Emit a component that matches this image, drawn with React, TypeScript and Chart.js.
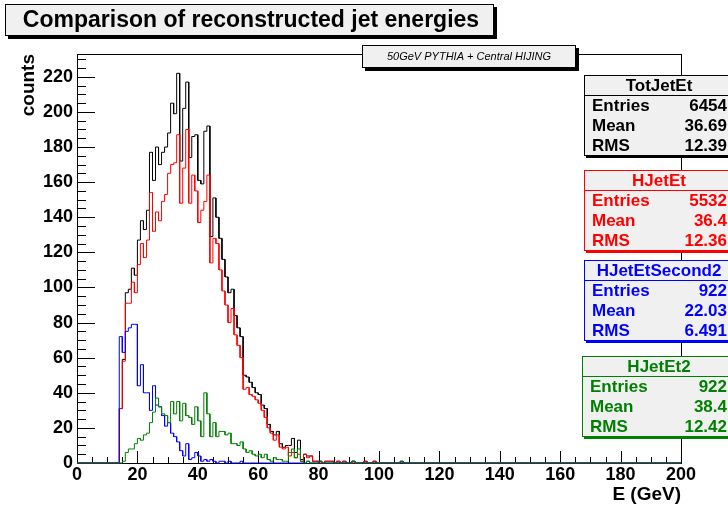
import React, { useEffect, useRef } from 'react';
import { Chart, registerables } from 'chart.js';

Chart.register(...registerables);

const FONT = "'Liberation Sans', Arial, Helvetica, sans-serif";

// Histogram binning: 200 bins of 1 GeV from 0 to 200; arrays start at bin FIRST_BIN
const FIRST_BIN = 14;
const N_BINS = 200;
const X_MAX = 200;
const Y_MAX = 233;
const X_LABEL_STEP = 20;
const Y_LABEL_STEP = 20;
const MINOR_STEP = 5;

// bins 14 .. 110
const totJetEt = [
  31, 59, 97, 99, 111, 107, 127, 138, 133, 144,
  177, 161, 180, 170, 177, 180, 188, 205, 199, 222,
  172, 202, 217, 174, 186, 187, 161, 159, 189, 192,
  129, 151, 140, 128, 116, 106, 97, 99, 84, 77,
  72, 50, 49, 46, 43, 40, 39, 33, 31, 22,
  18, 16, 18, 11, 9, 10, 10, 14, 6, 13,
  2, 5, 4, 4, 1, 1, 1, 0, 1, 1,
  1, 0, 1, 0, 1, 0, 0, 1, 0, 0,
  0, 1, 0, 0, 1, 0, 0, 0, 0, 0,
  0, 0, 0, 1, 0, 0, 0,
];

const hJetEt = [
  31, 58, 91, 91, 103, 97, 113, 125, 117, 127,
  154, 132, 143, 138, 149, 153, 165, 170, 171, 187,
  148, 168, 190, 148, 164, 155, 137, 144, 149, 164,
  114, 128, 125, 110, 98, 90, 80, 88, 73, 67,
  60, 42, 43, 39, 38, 36, 34, 30, 26, 20,
  17, 13, 16, 9, 8, 9, 4, 6, 3, 5,
  1, 5, 3, 4, 1, 1, 0, 0, 1, 1,
  1, 0, 1, 0, 1, 0, 0, 0, 0, 0,
  0, 1, 0, 0, 1, 0, 0, 0, 0, 0,
  0, 0, 0, 0, 0, 0, 0,
];

const hJetEtSecond2 = [
  72, 63, 75, 77, 79, 79, 44, 56, 40, 40,
  30, 44, 33, 32, 27, 21, 23, 17, 15, 12,
  7, 4, 11, 2, 3, 6, 4, 1, 2, 1,
  2, 1, 0, 1, 1, 0, 1, 0, 0, 0,
  1, 0, 0, 0, 0, 0, 0, 0, 0, 0,
  0, 0, 0, 0, 0, 0, 0, 0, 0, 0,
  0, 0, 1, 0, 0, 0, 1, 0, 0, 0,
  0, 0, 0, 0, 0, 0, 0, 1, 0, 0,
  0, 0, 0, 0, 0, 0, 0, 0, 0, 0,
  0, 0, 0, 0, 0, 0, 0,
];

const hJetEt2 = [
  0, 1, 6, 8, 8, 11, 14, 13, 16, 17,
  23, 29, 37, 32, 28, 27, 23, 35, 28, 35,
  24, 34, 27, 26, 22, 32, 24, 15, 40, 28,
  15, 23, 15, 18, 18, 16, 17, 11, 11, 10,
  12, 8, 6, 7, 5, 4, 5, 3, 5, 2,
  1, 3, 2, 2, 1, 1, 6, 8, 3, 8,
  1, 0, 1, 0, 0, 0, 1, 0, 0, 0,
  0, 0, 0, 0, 0, 0, 0, 1, 0, 0,
  0, 0, 0, 0, 0, 0, 0, 0, 0, 0,
  0, 0, 0, 1, 0, 0, 0,
];

const seriesColors = ['#000000', '#ff0000', '#0000ff', '#008000'];

// Stats boxes
const statNames = ['TotJetEt', 'HJetEt', 'HJetEtSecond2', 'HJetEt2'];
const statEntries = ['6454', '5532', '922', '922'];
const statMeans = ['36.69', '36.4', '22.03', '38.4'];
const statRms = ['12.39', '12.36', '6.491', '12.42'];
const statTops = [75, 170, 260, 356];
const statLefts = [584, 584, 584, 582];

const chartTitle = 'Comparison of reconstructed jet energies';
const subTitle = '50GeV PYTHIA + Central HIJING';
const xTitle = 'E (GeV)';
const yTitle = 'counts';

function histPoints(values: number[]) {
  const pts: { x: number; y: number }[] = [];
  for (let b = 0; b < N_BINS; b++) {
    const i = b - FIRST_BIN;
    const v = i >= 0 && i < values.length ? values[i] : 0;
    pts.push({ x: b, y: v }, { x: b + 1, y: v });
  }
  return pts;
}

function pave(ctx: CanvasRenderingContext2D, x: number, y: number, w: number, h: number,
  fill: string, stroke: string, shadow: string, off: number) {
  ctx.fillStyle = shadow;
  ctx.fillRect(x + off, y + off, w, h);
  ctx.fillStyle = fill;
  ctx.fillRect(x, y, w, h);
  ctx.strokeStyle = stroke;
  ctx.lineWidth = 1;
  ctx.strokeRect(x + 0.5, y + 0.5, w - 1, h - 1);
}

const rootPlugin = {
  id: 'rootDecor',
  beforeDatasetsDraw(chart: any) {
    const { ctx, chartArea } = chart;
    const { left, right, top, bottom } = chartArea;
    const xs = chart.scales.x;
    const ys = chart.scales.y;
    ctx.save();
    ctx.strokeStyle = '#000';
    ctx.lineWidth = 1;
    ctx.beginPath();
    for (let v = 0; v <= X_MAX; v += MINOR_STEP) {
      const px = Math.round(xs.getPixelForValue(v)) + 0.5;
      const len = v % X_LABEL_STEP === 0 ? 12 : 6;
      ctx.moveTo(px, bottom);
      ctx.lineTo(px, bottom - len);
    }
    for (let v = 0; v <= Y_MAX; v += MINOR_STEP) {
      const py = Math.round(ys.getPixelForValue(v)) + 0.5;
      const len = v % Y_LABEL_STEP === 0 ? 18 : 9;
      ctx.moveTo(left, py);
      ctx.lineTo(left + len, py);
    }
    ctx.stroke();
    ctx.strokeRect(Math.round(left) + 0.5, Math.round(top) + 0.5, Math.round(right - left), Math.round(bottom - top));
    ctx.restore();
  },
  afterDraw(chart: any) {
    const ctx: CanvasRenderingContext2D = chart.ctx;
    ctx.save();
    // main title
    pave(ctx, 5, 4, 489, 32, '#f0f0f0', '#000', '#000', 3);
    ctx.fillStyle = '#000';
    ctx.font = `bold 23px ${FONT}`;
    ctx.textAlign = 'center';
    ctx.textBaseline = 'middle';
    ctx.fillText(chartTitle, 251, 21);
    // subtitle label
    pave(ctx, 362, 45, 214, 23, '#f0f0f0', '#000', '#000', 3);
    ctx.fillStyle = '#000';
    ctx.font = `italic 11px ${FONT}`;
    ctx.fillText(subTitle, 469, 57);
    // stats boxes
    for (let k = 0; k < statNames.length; k++) {
      const col = seriesColors[k];
      const x = statLefts[k];
      const y = statTops[k];
      pave(ctx, x, y, 160, 81, '#f0f0f0', col, col, 2);
      ctx.strokeStyle = col;
      ctx.beginPath();
      ctx.moveTo(x, y + 20.5);
      ctx.lineTo(728, y + 20.5);
      ctx.stroke();
      ctx.fillStyle = col;
      ctx.font = `bold 17px ${FONT}`;
      ctx.textBaseline = 'middle';
      ctx.textAlign = 'center';
      ctx.fillText(statNames[k], 659, y + 11);
      const labels = ['Entries', 'Mean', 'RMS'];
      const vals = [statEntries[k], statMeans[k], statRms[k]];
      for (let r = 0; r < 3; r++) {
        const ry = y + 31 + r * 20;
        ctx.textAlign = 'left';
        ctx.fillText(labels[r], x + 8, ry);
        ctx.textAlign = 'right';
        ctx.fillText(vals[r], 727, ry);
      }
    }
    ctx.restore();
  },
};

export default function App() {
  const canvasRef = useRef<HTMLCanvasElement | null>(null);

  useEffect(() => {
    const canvas = canvasRef.current;
    if (!canvas) return;
    const series = [totJetEt, hJetEt, hJetEtSecond2, hJetEt2];
    const names = statNames;
    const orders = [4, 3, 2, 1];
    const tickFont = { family: FONT, size: 18, weight: 'bold' as const, lineHeight: 1.2 };
    const titleFont = { family: FONT, size: 19, weight: 'bold' as const, lineHeight: 1.2 };
    const chart = new Chart(canvas, {
      type: 'line',
      data: {
        datasets: series.map((vals, k) => ({
          label: names[k],
          data: histPoints(vals),
          borderColor: seriesColors[k],
          backgroundColor: seriesColors[k],
          borderWidth: 1,
          pointRadius: 0,
          fill: false,
          tension: 0,
          order: orders[k],
          clip: 2,
        })),
      },
      options: {
        responsive: false,
        animation: false,
        devicePixelRatio: 1,
        events: [],
        layout: { padding: { left: 0, right: 47, top: 54, bottom: 0 } },
        plugins: {
          legend: { display: false },
          tooltip: { enabled: false },
          title: { display: false },
        },
        scales: {
          x: {
            type: 'linear',
            min: 0,
            max: X_MAX,
            grid: { display: false, drawTicks: false },
            border: { display: false },
            ticks: {
              stepSize: X_LABEL_STEP,
              autoSkip: false,
              maxRotation: 0,
              includeBounds: false,
              padding: 1,
              color: '#000',
              font: tickFont,
            },
            title: {
              display: true,
              text: xTitle,
              align: 'end',
              color: '#000',
              font: titleFont,
              padding: { top: 0, bottom: 4 },
            },
            afterFit: (s: any) => { s.height = 47; },
          },
          y: {
            type: 'linear',
            min: 0,
            max: Y_MAX,
            grid: { display: false, drawTicks: false },
            border: { display: false },
            ticks: {
              stepSize: Y_LABEL_STEP,
              autoSkip: false,
              includeBounds: false,
              padding: 4,
              color: '#000',
              font: tickFont,
            },
            title: {
              display: true,
              text: yTitle,
              align: 'end',
              color: '#000',
              font: titleFont,
              padding: { top: 17, bottom: 0 },
            },
            afterFit: (s: any) => { s.width = 77; },
          },
        },
      } as any,
      plugins: [rootPlugin],
    });
    return () => chart.destroy();
  }, []);

  return (
    <div style={{ position: 'absolute', left: 0, top: 0, width: 728, height: 510, background: '#fff' }}>
      <canvas ref={canvasRef} width={728} height={510} style={{ display: 'block', width: 728, height: 510 }} />
    </div>
  );
}
